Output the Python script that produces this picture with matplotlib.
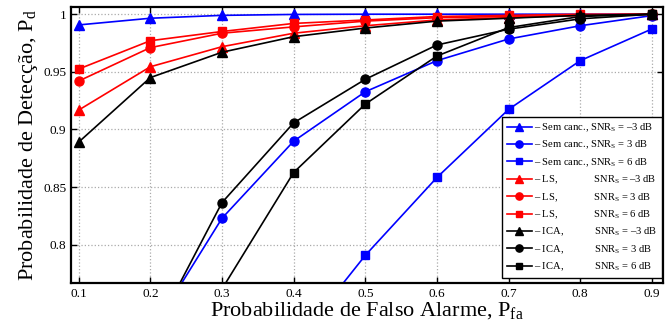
import matplotlib
matplotlib.use("Agg")
import matplotlib.pyplot as plt
import numpy as np

plt.rcParams['font.family'] = ['Liberation Serif', 'DejaVu Serif']
plt.rcParams['mathtext.fontset'] = 'custom'
plt.rcParams['mathtext.rm'] = 'Liberation Serif'
plt.rcParams['mathtext.it'] = 'Liberation Serif:italic'

pfa = [0.1, 0.2, 0.3, 0.4, 0.5, 0.6, 0.7, 0.8, 0.9]

sem_m3 = [0.9907, 0.9965, 0.9990, 0.9998, 1.0, 1.0, 1.0, 1.0, 1.0]
sem_3 = [0.60, 0.7229, 0.8229, 0.8898, 0.9327, 0.9597, 0.9785, 0.9900, 0.9988]
sem_6 = [0.45, 0.55, 0.63, 0.7125, 0.7907, 0.8583, 0.9174, 0.9597, 0.9872]

ls_m3 = [0.9168, 0.9544, 0.9718, 0.9835, 0.9900, 0.9950, 0.9970, 0.9990, 1.0]
ls_3 = [0.9420, 0.9710, 0.9835, 0.9890, 0.9940, 0.9970, 0.9980, 0.9990, 1.0]
ls_6 = [0.9524, 0.9770, 0.9850, 0.9920, 0.9950, 0.9980, 0.9990, 1.0, 1.0]

ica_m3 = [0.8890, 0.9450, 0.9670, 0.9805, 0.9880, 0.9940, 0.9965, 0.9990, 1.0]
ica_3 = [0.55, 0.7175, 0.8365, 0.9057, 0.9435, 0.9733, 0.9870, 0.9960, 1.0]
ica_6 = [0.45, 0.62, 0.7615, 0.8626, 0.9220, 0.9637, 0.9884, 0.9980, 1.0]

labels = [
    "\u2013 Sem canc., SNR$_\\mathrm{S}$ = \u20133 dB",
    "\u2013 Sem canc., SNR$_\\mathrm{S}$ = 3 dB",
    "\u2013 Sem canc., SNR$_\\mathrm{S}$ = 6 dB",
    "\u2013 LS,              SNR$_\\mathrm{S}$ = \u20133 dB",
    "\u2013 LS,              SNR$_\\mathrm{S}$ = 3 dB",
    "\u2013 LS,              SNR$_\\mathrm{S}$ = 6 dB",
    "\u2013 ICA,            SNR$_\\mathrm{S}$ = \u20133 dB",
    "\u2013 ICA,            SNR$_\\mathrm{S}$ = 3 dB",
    "\u2013 ICA,            SNR$_\\mathrm{S}$ = 6 dB",
]

msize = {'^': 7.2, 'o': 6.5, 's': 5.3}
series = [
    (sem_m3, 'blue', '^'), (sem_3, 'blue', 'o'), (sem_6, 'blue', 's'),
    (ls_m3, 'red', '^'), (ls_3, 'red', 'o'), (ls_6, 'red', 's'),
    (ica_m3, 'black', '^'), (ica_3, 'black', 'o'), (ica_6, 'black', 's'),
]

fig = plt.figure(figsize=(6.65, 3.31), dpi=100)
ax = fig.add_axes([0.1068, 0.145, 0.890, 0.834])

for (vals, c, m), lab in zip(series, labels):
    ax.plot(pfa, vals, color=c, marker=m, markersize=msize[m], linewidth=1.2, label=lab)

ax.set_xlim(0.0893, 0.9153)
ax.set_ylim(0.7667, 1.0063)
ax.set_xticks(pfa)
ax.set_xticklabels(['0.1', '0.2', '0.3', '0.4', '0.5', '0.6', '0.7', '0.8', '0.9'])
ax.set_yticks([0.8, 0.85, 0.9, 0.95, 1.0])
ax.set_yticklabels(['0.8', '0.85', '0.9', '0.95', '1'])
ax.grid(True, linestyle=':', color='#aaaaaa', linewidth=0.9)
ax.tick_params(direction='in', top=True, right=True, labelsize=9.5, length=4, width=1)
for s in ax.spines.values():
    s.set_linewidth(1.6)

ax.set_xlabel("Probabilidade de Falso Alarme, P$_\\mathrm{fa}$", fontsize=16, labelpad=0)
ax.set_ylabel("Probabilidade de Detecção, P$_\\mathrm{d}$", fontsize=16, labelpad=2)

leg = ax.legend(loc='lower right', bbox_to_anchor=(0.998, 0.018), borderaxespad=0,
                fontsize=7.6, fancybox=False, framealpha=1, edgecolor='black',
                handlelength=2.4, handletextpad=0.2, labelspacing=0.47, borderpad=0.45,
                markerscale=0.8)
leg.get_frame().set_linewidth(1.0)

fig.savefig("out.png", dpi=100)
